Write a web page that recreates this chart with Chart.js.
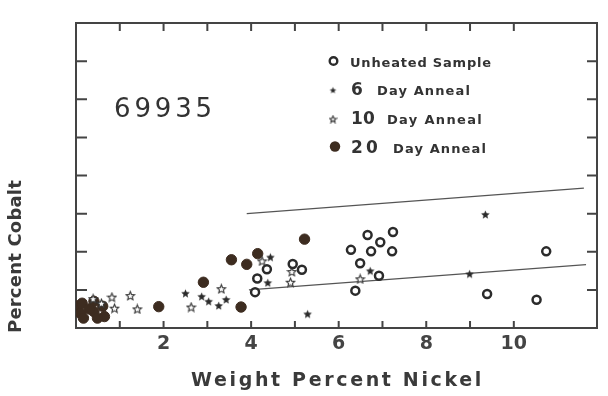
<!DOCTYPE html>
<html lang="en">
<head>
<meta charset="UTF-8">
<title>69935 - Percent Cobalt vs Weight Percent Nickel</title>
<script src="https://cdn.jsdelivr.net/npm/chart.js"></script>
<style>
  body { margin: 0; background: #fff; }
  canvas { display: block; }
</style>
</head>
<body>
<canvas id="chart" width="608" height="396"></canvas>
<script>
// Data (x = weight % Ni, y = cobalt, in tick units)
const unheatedX = [6.28, 6.66, 6.95, 7.24, 6.74, 7.22, 6.49, 6.92, 6.38, 9.39, 10.52, 10.74, 4.36, 4.14, 4.09, 4.95, 5.16];
const unheatedY = [2.05, 2.44, 2.25, 2.52, 2.01, 2.01, 1.70, 1.37, 0.98, 0.89, 0.74, 2.01, 1.54, 1.30, 0.94, 1.68, 1.53];

const day6X = [9.35, 6.72, 8.99, 4.44, 4.38, 2.50, 2.87, 3.03, 3.26, 3.43, 5.29];
const day6Y = [2.98, 1.50, 1.42, 1.86, 1.19, 0.91, 0.83, 0.70, 0.59, 0.75, 0.37];

const day10X = [4.25, 4.93, 4.90, 6.49, 3.32, 2.63, 1.24, 1.40, 0.82, 0.88, 0.39, 0.58];
const day10Y = [1.76, 1.48, 1.20, 1.29, 1.03, 0.55, 0.85, 0.50, 0.81, 0.52, 0.77, 0.65];

const day20X = [5.22, 4.15, 3.55, 3.90, 2.91, 1.89, 3.77, 0.04, 0.14, 0.10, 0.41, 0.41, 0.61, 0.65, 0.49, 0.17, 0.30];
const day20Y = [2.33, 1.95, 1.79, 1.67, 1.20, 0.56, 0.55, 0.58, 0.65, 0.39, 0.70, 0.43, 0.57, 0.30, 0.26, 0.26, 0.50];

const upperLineX = [3.90, 11.60];
const upperLineY = [3.00, 3.67];
const lowerLineX = [3.95, 11.65];
const lowerLineY = [1.00, 1.66];

const xTickLabels = [2, 4, 6, 8, 10];
const legendNumbers = ['', '6', '10', '20'];
const legendTexts = ['Unheated Sample', 'Day Anneal', 'Day Anneal', 'Day Anneal'];
const sampleName = '69935';

const ink = '#2b2b2b';
const brown = '#3d2c20';
const font = '"DejaVu Sans", Verdana, sans-serif';

function pairs(xs, ys) {
  return xs.map((x, i) => ({ x: x, y: ys[i] }));
}

// five point star drawn into a small canvas, used as pointStyle
function makeStar(size, filled) {
  const c = document.createElement('canvas');
  c.width = size; c.height = size;
  const g = c.getContext('2d');
  const r = size / 2 - 1, ri = r * 0.45, cx = size / 2, cy = size / 2 + 0.5;
  g.beginPath();
  for (let i = 0; i < 10; i++) {
    const rad = i % 2 === 0 ? r : ri;
    const a = -Math.PI / 2 + i * Math.PI / 5;
    g.lineTo(cx + rad * Math.cos(a), cy + rad * Math.sin(a));
  }
  g.closePath();
  if (filled) {
    g.fillStyle = ink;
    g.fill();
  } else {
    g.fillStyle = '#fff';
    g.fill();
    g.strokeStyle = '#333';
    g.lineWidth = 1.1;
    g.stroke();
  }
  return c;
}

const starFilled = makeStar(11, true);
const starOpen = makeStar(11, false);
const starFilledSmall = makeStar(9, true);
const starOpenSmall = makeStar(9, false);

// text squeezed/stretched to a target width with letter spacing
function fitText(ctx, text, x, y, width) {
  ctx.letterSpacing = '0px';
  const w = ctx.measureText(text).width;
  const ls = Math.max(-1.5, (width - w) / text.length);
  ctx.letterSpacing = ls + 'px';
  ctx.fillText(text, x, y);
  ctx.letterSpacing = '0px';
}

const framePlugin = {
  id: 'frame',
  beforeDatasetsDraw(chart) {
    const ctx = chart.ctx;
    const a = chart.chartArea;
    const xs = chart.scales.x, ys = chart.scales.y;
    ctx.save();
    ctx.strokeStyle = '#444';
    ctx.lineWidth = 2;
    ctx.strokeRect(a.left, a.top, a.right - a.left, a.bottom - a.top);
    ctx.beginPath();
    xs.ticks.forEach(t => {
      if (t.value <= xs.min || t.value >= xs.max) return;
      const px = xs.getPixelForValue(t.value);
      ctx.moveTo(px, a.bottom); ctx.lineTo(px, a.bottom - 7);
      ctx.moveTo(px, a.top); ctx.lineTo(px, a.top + 8);
    });
    ys.ticks.forEach(t => {
      if (t.value <= ys.min || t.value >= ys.max) return;
      const py = ys.getPixelForValue(t.value);
      ctx.moveTo(a.left, py); ctx.lineTo(a.left + 11, py);
      ctx.moveTo(a.right, py); ctx.lineTo(a.right - 10, py);
    });
    ctx.stroke();
    ctx.restore();
  },
  afterDraw(chart) {
    const ctx = chart.ctx;
    ctx.save();
    ctx.fillStyle = '#333';
    ctx.textBaseline = 'alphabetic';
    ctx.textAlign = 'left';

    // sample number
    ctx.font = '26px ' + font;
    fitText(ctx, sampleName, 114, 117, 102);

    // legend
    const rows = [66.5, 95, 124, 152.5];
    const markY = [61, 90, 119, 146.5];
    const numW = [0, 13, 24, 30];
    const textX = [350, 377, 387, 393];
    const textW = [142, 94, 96, 94];
    ctx.beginPath();
    ctx.arc(333.5, markY[0], 3.8, 0, Math.PI * 2);
    ctx.lineWidth = 2.4;
    ctx.strokeStyle = ink;
    ctx.stroke();
    ctx.drawImage(starFilledSmall, 333 - 4.5, markY[1] - 4.5);
    ctx.drawImage(starOpenSmall, 333 - 4.5, markY[2] - 4.5);
    ctx.beginPath();
    ctx.arc(335, markY[3], 5.2, 0, Math.PI * 2);
    ctx.fillStyle = brown;
    ctx.fill();

    ctx.fillStyle = '#333';
    for (let i = 0; i < legendTexts.length; i++) {
      if (legendNumbers[i]) {
        ctx.font = 'bold 17px ' + font;
        fitText(ctx, legendNumbers[i], 351, rows[i], numW[i]);
      }
      ctx.font = 'bold 13px ' + font;
      fitText(ctx, legendTexts[i], textX[i], rows[i], textW[i]);
    }

    // axis titles
    ctx.font = 'bold 19px ' + font;
    ctx.fillStyle = '#3a3a3a';
    fitText(ctx, 'Weight Percent Nickel', 191, 386, 293);

    ctx.translate(21, 256);
    ctx.rotate(-Math.PI / 2);
    ctx.font = 'bold 18px ' + font;
    fitText(ctx, 'Percent Cobalt', -77, 0, 153);
    ctx.restore();
  }
};

new Chart(document.getElementById('chart'), {
  type: 'scatter',
  data: {
    datasets: [
      {
        label: 'Unheated Sample',
        data: pairs(unheatedX, unheatedY),
        pointStyle: 'circle',
        pointRadius: 4,
        borderWidth: 2.5,
        borderColor: ink,
        backgroundColor: '#fff'
      },
      {
        label: '6 Day Anneal',
        data: pairs(day6X, day6Y),
        pointStyle: starFilled
      },
      {
        label: '10 Day Anneal',
        data: pairs(day10X, day10Y),
        pointStyle: starOpen
      },
      {
        label: '20 Day Anneal',
        data: pairs(day20X, day20Y),
        pointStyle: 'circle',
        pointRadius: 5.2,
        borderWidth: 1,
        borderColor: brown,
        backgroundColor: brown
      },
      {
        label: 'upper',
        data: pairs(upperLineX, upperLineY),
        showLine: true,
        pointRadius: 0,
        borderColor: '#555',
        borderWidth: 1.3
      },
      {
        label: 'lower',
        data: pairs(lowerLineX, lowerLineY),
        showLine: true,
        pointRadius: 0,
        borderColor: '#555',
        borderWidth: 1.3
      }
    ]
  },
  options: {
    responsive: false,
    animation: false,
    devicePixelRatio: 1,
    layout: { padding: { left: 0, right: 11, top: 23, bottom: 0 } },
    plugins: {
      legend: { display: false },
      tooltip: { enabled: false }
    },
    scales: {
      x: {
        type: 'linear',
        min: 0,
        max: 11.9,
        grid: { display: false, drawTicks: false },
        border: { display: false },
        afterFit: s => { s.height = 68; },
        ticks: {
          stepSize: 1,
          autoSkip: false,
          maxRotation: 0,
          padding: 5,
          color: '#444',
          font: { family: font, size: 19, weight: 'bold' },
          callback: v => xTickLabels.includes(v) ? String(v) : ''
        }
      },
      y: {
        type: 'linear',
        min: 0,
        max: 8,
        grid: { display: false, drawTicks: false },
        border: { display: false },
        afterFit: s => { s.width = 76; },
        ticks: { stepSize: 1, display: false }
      }
    }
  },
  plugins: [framePlugin]
});
</script>
</body>
</html>
